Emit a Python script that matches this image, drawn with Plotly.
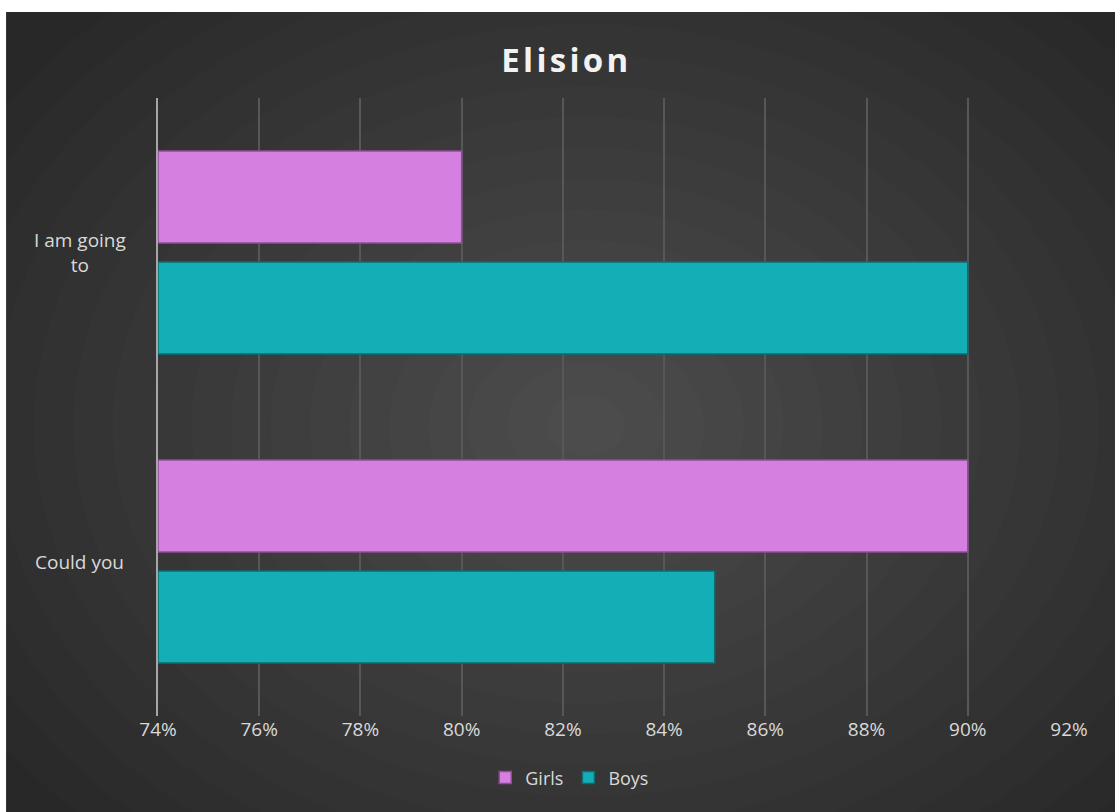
import plotly.graph_objects as go

categories = ["Could you", "I am going to"]
category_labels = ["Could you", "I am going<br>to"]
girls = [0.90, 0.80]
boys = [0.85, 0.90]
x_ticks = [0.74, 0.76, 0.78, 0.80, 0.82, 0.84, 0.86, 0.88, 0.90, 0.92]
axis_min = 0.74

GIRLS_COLOR = "#D580E0"
BOYS_COLOR = "#14AEB6"
FONT = "Open Sans, Liberation Sans, sans-serif"

fig = go.Figure()
fig.add_trace(go.Bar(
    y=categories, x=[v - axis_min for v in boys], base=axis_min,
    name="Boys", orientation="h",
    marker=dict(color=BOYS_COLOR, line=dict(color="#0B6E73", width=1.5)),
    hovertemplate="%{y}: %{customdata:.0%}<extra>Boys</extra>", customdata=boys,
))
fig.add_trace(go.Bar(
    y=categories, x=[v - axis_min for v in girls], base=axis_min,
    name="Girls", orientation="h",
    marker=dict(color=GIRLS_COLOR, line=dict(color="#8E4E97", width=1.5)),
    hovertemplate="%{y}: %{customdata:.0%}<extra>Girls</extra>", customdata=girls,
))

shapes = []
shapes.append(dict(type="rect", xref="paper", yref="paper",
                   x0=-0.1668, x1=1.06, y0=-0.16, y1=1.1392,
                   fillcolor="#282828", line=dict(width=0), layer="below"))
n = 18
for i in range(n):
    f = 1 - i / n
    rx = 0.78 * f
    ry = 0.9 * f
    cx, cy = 0.47, 0.47
    shapes.append(dict(type="circle", xref="paper", yref="paper",
                       x0=cx - rx, x1=cx + rx, y0=cy - ry, y1=cy + ry,
                       fillcolor="rgba(255,255,255,0.011)", line=dict(width=0),
                       layer="below"))
shapes.append(dict(type="rect", xref="paper", yref="paper",
                   x0=-0.3, x1=1.2, y0=1.1392, y1=1.4,
                   fillcolor="white", line=dict(width=0), layer="below"))
shapes.append(dict(type="rect", xref="paper", yref="paper",
                   x0=-0.3, x1=-0.1668, y0=-0.3, y1=1.4,
                   fillcolor="white", line=dict(width=0), layer="below"))

annotations = []
for cat, lab in zip(categories, category_labels):
    annotations.append(dict(
        x=-0.086, xref="paper", y=cat, yref="y", text=lab, showarrow=False,
        xanchor="center", yanchor="middle", align="center",
        font=dict(family=FONT, size=19, color="#D9D9D9"),
    ))

fig.update_layout(
    width=1115, height=812,
    margin=dict(l=158, r=46, t=98, b=96),
    paper_bgcolor="white",
    plot_bgcolor="rgba(0,0,0,0)",
    barmode="group",
    bargap=0.282,
    bargroupgap=0.171,
    title=dict(
        text="<b>E\u200al\u200ai\u200as\u200ai\u200ao\u200an</b>",
        x=0.4465, xanchor="center", xref="paper", y=0.926, yanchor="middle",
        font=dict(family=FONT, size=33, color="#F2F2F2"),
    ),
    xaxis=dict(
        range=[0.74, 0.92], tickvals=x_ticks, tickformat=".0%",
        showgrid=True, gridcolor="#575757", gridwidth=1.5,
        zeroline=False, showline=False, ticks="",
        tickfont=dict(family=FONT, size=19, color="#D9D9D9"),
        fixedrange=True,
    ),
    yaxis=dict(
        showticklabels=False, showgrid=False, zeroline=False,
        showline=True, linecolor="#A6A6A6", linewidth=2,
        categoryorder="array", categoryarray=categories,
        fixedrange=True,
    ),
    legend=dict(
        orientation="h", x=0.452, xanchor="center", y=-0.1, yanchor="middle",
        traceorder="reversed", bgcolor="rgba(0,0,0,0)",
        font=dict(family=FONT, size=18, color="#D9D9D9"),
        itemwidth=30,
    ),
    shapes=shapes,
    annotations=annotations,
)

fig.write_html(
    "out.html",
    config={"displayModeBar": False},
    post_script="document.body.style.margin='0';document.body.style.overflow='hidden';",
)
